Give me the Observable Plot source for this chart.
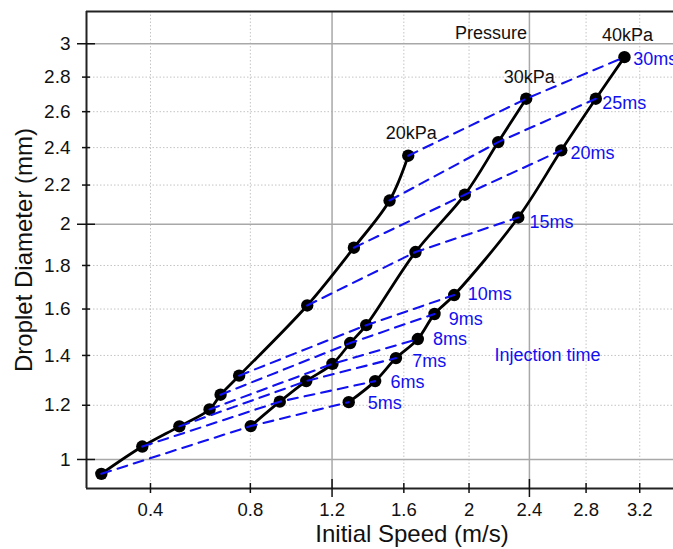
<!DOCTYPE html>
<html>
<head>
<meta charset="utf-8">
<script src="https://cdn.jsdelivr.net/npm/d3@7"></script>
<script src="https://cdn.jsdelivr.net/npm/@observablehq/plot@0.6"></script>
<style>
  html, body { margin: 0; padding: 0; background: #fff; }
</style>
</head>
<body>
<div id="chart"></div>
<script>
// ---- data ----
const injectionTimes = [5, 6, 7, 8, 9, 10, 15, 20, 25, 30];
const pressures = ["20kPa", "30kPa", "40kPa"];
const speed20 = [0.244, 0.372, 0.505, 0.624, 0.670, 0.750, 1.072, 1.317, 1.517, 1.626];
const diam20  = [0.950, 1.046, 1.120, 1.184, 1.241, 1.317, 1.616, 1.885, 2.120, 2.356];
const speed30 = [0.802, 0.937, 1.067, 1.202, 1.297, 1.385, 1.669, 1.973, 2.190, 2.378];
const diam30  = [1.121, 1.214, 1.295, 1.365, 1.452, 1.529, 1.864, 2.150, 2.430, 2.674];
const speed40 = [1.289, 1.435, 1.554, 1.683, 1.784, 1.906, 2.324, 2.622, 2.871, 3.084];
const diam40  = [1.212, 1.295, 1.389, 1.469, 1.578, 1.663, 2.034, 2.385, 2.674, 2.919];
// injection-time label anchors (data units)
const msLabelSpeed = [1.394, 1.522, 1.649, 1.774, 1.872, 1.992, 2.401, 2.688, 2.918, 3.151];
const msLabelDiam  = [1.206, 1.289, 1.376, 1.467, 1.557, 1.666, 2.010, 2.372, 2.646, 2.909];
const notes = [
  {text: "Pressure", speed: 2.142, diam: 3.064},
  {text: "Injection time", speed: 2.525, diam: 1.400}
];
const xTicks = [0.4, 0.8, 1.2, 1.6, 2, 2.4, 2.8, 3.2];
const xMajor = [1.2, 2.4];
const yTicks = [1, 1.2, 1.4, 1.6, 1.8, 2, 2.2, 2.4, 2.6, 2.8, 3];
const yMajor = [1, 2, 3];
const xLabel = "Initial Speed (m/s)";
const yLabel = "Droplet Diameter (mm)";

// ---- build table ----
const series = [[speed20, diam20], [speed30, diam30], [speed40, diam40]];
const rows = [];
series.forEach(([sp, dm], p) => {
  sp.forEach((s, i) => rows.push({pressure: pressures[p], time: injectionTimes[i], speed: s, diam: dm[i]}));
});
const lastPoints = pressures.map((p, k) => ({pressure: p, speed: series[k][0].at(-1), diam: series[k][1].at(-1)}));
const msLabels = injectionTimes.map((t, i) => ({text: t + "ms", speed: msLabelSpeed[i], diam: msLabelDiam[i]}));

const xDomain = [0.2027, 3.462];
const yDomain = [0.9004, 3.2];
const xMinor = xTicks.filter(t => !xMajor.includes(t));
const yMinor = yTicks.filter(t => !yMajor.includes(t));
const blue = "#1010f0";
const fmt = d => String(d);

const chart = Plot.plot({
  width: 673,
  height: 549,
  marginLeft: 86,
  marginRight: 0,
  marginTop: 11,
  marginBottom: 61,
  style: {fontFamily: "'Liberation Sans', Arial, Helvetica, sans-serif", fontSize: "18px", background: "#fff", color: "#111"},
  x: {type: "pow", exponent: 0.62, domain: xDomain, label: null},
  y: {type: "sqrt", domain: yDomain, label: null},
  marks: [
    // grid
    Plot.ruleX(xMinor, {x: d => d, stroke: "#c4c4c4", strokeWidth: 1, strokeDasharray: "1.5,2"}),
    Plot.ruleY(yMinor, {y: d => d, stroke: "#c4c4c4", strokeWidth: 1, strokeDasharray: "1.5,2"}),
    Plot.ruleX(xMajor, {x: d => d, stroke: "#a8a8a8", strokeWidth: 1.5}),
    Plot.ruleY(yMajor, {y: d => d, stroke: "#a8a8a8", strokeWidth: 1.5}),
    // frame
    Plot.ruleX([xDomain[0]], {stroke: "#222", strokeWidth: 2}),
    Plot.ruleY([yDomain[0], yDomain[1]], {stroke: "#222", strokeWidth: 2}),
    // ticks crossing the axis lines
    Plot.ruleX(xMinor, {x: d => d, y1: yDomain[0], y2: yDomain[0], insetTop: -5, insetBottom: -5, stroke: "#111", strokeWidth: 1.5}),
    Plot.ruleX(xMajor, {x: d => d, y1: yDomain[0], y2: yDomain[0], insetTop: -9, insetBottom: -9, stroke: "#111", strokeWidth: 1.5}),
    Plot.ruleY(yMinor, {y: d => d, x1: xDomain[0], x2: xDomain[0], insetLeft: -4, insetRight: -4, stroke: "#111", strokeWidth: 1.5}),
    Plot.ruleY(yMajor, {y: d => d, x1: xDomain[0], x2: xDomain[0], insetLeft: -9, insetRight: -9, stroke: "#111", strokeWidth: 1.5}),
    // tick labels
    Plot.axisX(xTicks, {tickSize: 0, tickPadding: 14, fontSize: 18.5, tickFormat: fmt, label: null}),
    Plot.axisY(yTicks, {tickSize: 0, tickPadding: 16, fontSize: 19, tickFormat: fmt, label: null}),
    // axis titles
    Plot.text([xLabel], {text: d => d, frameAnchor: "bottom", dx: 32, dy: 46, textAnchor: "middle", lineAnchor: "middle", fontSize: 24}),
    Plot.text([yLabel], {text: d => d, frameAnchor: "left", dx: -62, rotate: -90, textAnchor: "middle", lineAnchor: "middle", fontSize: 24}),
    // pressure curves
    Plot.line(rows, {x: "speed", y: "diam", z: "pressure", stroke: "#000", strokeWidth: 2.8, curve: "catmull-rom"}),
    Plot.dot(rows, {x: "speed", y: "diam", r: 6.2, fill: "#000"}),
    // iso-injection-time dashed lines
    Plot.line(rows, {x: "speed", y: "diam", z: "time", sort: "pressure", stroke: blue, strokeWidth: 2.1, strokeDasharray: "10,7"}),
    // labels
    Plot.text(lastPoints, {x: "speed", y: "diam", text: "pressure", dx: 3, dy: -22, fontSize: 18, fill: "#111"}),
    Plot.text(notes, {x: "speed", y: "diam", text: "text", fontSize: 18, fill: (d) => d.text === "Pressure" ? "#111" : blue}),
    Plot.text(msLabels, {x: "speed", y: "diam", text: "text", textAnchor: "start", fontSize: 18, fill: blue})
  ]
});
document.getElementById("chart").appendChild(chart);
</script>
</body>
</html>
